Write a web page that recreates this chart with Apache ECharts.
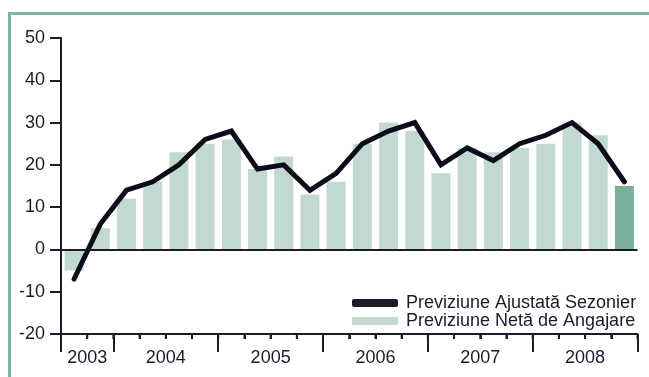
<!DOCTYPE html>
<html>
<head>
<meta charset="utf-8">
<script src="https://cdn.jsdelivr.net/npm/echarts@6/dist/echarts.min.js"></script>
<style>
  html, body { margin: 0; padding: 0; background: #fff; }
  #chart { width: 649px; height: 377px; }
</style>
</head>
<body>
<div id="chart"></div>
<script>
// Quarterly periods, Q3 2003 to Q4 2008
const quarters = [
  '2003 T3', '2003 T4',
  '2004 T1', '2004 T2', '2004 T3', '2004 T4',
  '2005 T1', '2005 T2', '2005 T3', '2005 T4',
  '2006 T1', '2006 T2', '2006 T3', '2006 T4',
  '2007 T1', '2007 T2', '2007 T3', '2007 T4',
  '2008 T1', '2008 T2', '2008 T3', '2008 T4'
];
// Net employment outlook (bars)
const netOutlook = [-5, 5, 12, 16, 23, 25, 26, 19, 22, 13, 16, 25, 30, 28, 18, 24, 23, 24, 25, 30, 27, 15];
// Seasonally adjusted outlook (line)
const adjustedOutlook = [-7, 6, 14, 16, 20, 26, 28, 19, 20, 14, 18, 25, 28, 30, 20, 24, 21, 25, 27, 30, 25, 16];
// Year labels and the quarter index where each year starts
const years = ['2003', '2004', '2005', '2006', '2007', '2008'];
const yearStarts = [0, 2, 6, 10, 14, 18, 22];
// Value axis range
const yMin = -20;
const yMax = 50;

const lineName = 'Previziune Ajustată Sezonier';
const barName = 'Previziune Netă de Angajare';

const ink = '#1b1b2b';
const barLight = '#c2d9cf';
const barDark = '#78b09a';
const frame = '#7db59f';
const font = 'Liberation Sans, Arial, Helvetica, sans-serif';

// Boundaries between quarters (short ticks)
const quarterBounds = quarters.map((q, i) => i).concat([quarters.length]);
// Year label positions sit halfway between consecutive year boundaries
const yearCenters = years.map((y, i) => (yearStarts[i] + yearStarts[i + 1]) / 2);

const chart = echarts.init(document.getElementById('chart'), null, { renderer: 'canvas' });

// Value axis spanning the quarter range, used only for ticks and year labels
const tickAxis = (tickValues, length, labelFormatter) => ({
  type: 'value',
  min: 0,
  max: quarters.length,
  position: 'bottom',
  axisLine: { show: false, onZero: false },
  axisTick: { show: true, length, customValues: tickValues, lineStyle: { color: ink, width: 2 } },
  axisLabel: {
    show: true,
    customValues: yearCenters,
    margin: 15,
    color: ink,
    fontSize: 18,
    fontFamily: font,
    formatter: labelFormatter
  },
  splitLine: { show: false }
});

chart.setOption({
  animation: false,
  backgroundColor: '#fff',
  textStyle: { fontFamily: font },
  graphic: [{
    type: 'rect',
    z: 0,
    shape: { x: 9.5, y: 13.5, width: 700, height: 400 },
    style: { fill: 'none', stroke: frame, lineWidth: 3 }
  }],
  grid: { left: 61, right: 11.5, top: 38, bottom: 43, containLabel: false },
  legend: {
    orient: 'vertical',
    left: 347,
    top: 289,
    itemWidth: 46,
    itemHeight: 8,
    itemGap: 0,
    textStyle: { color: ink, fontSize: 18, fontFamily: font, padding: [0, 0, 0, 3] },
    data: [
      { name: lineName, icon: 'roundRect', itemStyle: { color: ink } },
      { name: barName, icon: 'rect', itemStyle: { color: barLight } }
    ]
  },
  xAxis: [
    {
      type: 'category',
      data: quarters,
      position: 'bottom',
      axisLine: { onZero: false, lineStyle: { color: ink, width: 2 } },
      axisTick: { show: false },
      axisLabel: { show: false },
      splitLine: { show: false }
    },
    // Short ticks at every quarter boundary, with the year labels
    tickAxis(quarterBounds, 5, v => {
      const i = yearCenters.indexOf(v);
      return i >= 0 ? years[i] : '';
    }),
    // Long ticks at year boundaries
    tickAxis(yearStarts, 18, () => ' ')
  ],
  yAxis: {
    type: 'value',
    min: yMin,
    max: yMax,
    interval: 10,
    axisLine: { show: true, lineStyle: { color: ink, width: 2 } },
    axisTick: { show: true, length: 11, lineStyle: { color: ink, width: 2 } },
    axisLabel: { color: ink, fontSize: 18, margin: 16, fontFamily: font },
    splitLine: { show: false }
  },
  series: [
    {
      name: barName,
      type: 'bar',
      xAxisIndex: 0,
      barWidth: 19,
      data: netOutlook.map((v, i) => ({
        value: v,
        itemStyle: { color: i === netOutlook.length - 1 ? barDark : barLight }
      })),
      itemStyle: { color: barLight },
      markLine: {
        silent: true,
        symbol: 'none',
        label: { show: false },
        lineStyle: { color: ink, width: 2, type: 'solid' },
        data: [{ yAxis: 0 }]
      },
      z: 2
    },
    {
      name: lineName,
      type: 'line',
      xAxisIndex: 0,
      data: adjustedOutlook,
      symbol: 'none',
      lineStyle: { color: '#0c0c1a', width: 5, cap: 'round', join: 'miter' },
      itemStyle: { color: ink },
      z: 4
    },
    {
      // Quarter boundary notches under the bottom axis line
      name: 'quarterTicks',
      type: 'custom',
      xAxisIndex: 0,
      silent: true,
      clip: false,
      z: 5,
      data: quarters.map((q, i) => [i, yMin]),
      renderItem: (params, api) => {
        const i = api.value(0);
        const p = api.coord([i, yMin]);
        const band = api.size([1, 0])[0];
        const notch = x => ({
          type: 'line',
          shape: { x1: x, y1: p[1], x2: x, y2: p[1] + 5 },
          style: { stroke: ink, lineWidth: 2 }
        });
        const children = [notch(p[0] - band / 2)];
        if (i === quarters.length - 1) children.push(notch(p[0] + band / 2));
        return { type: 'group', children };
      }
    }
  ]
});
</script>
</body>
</html>
